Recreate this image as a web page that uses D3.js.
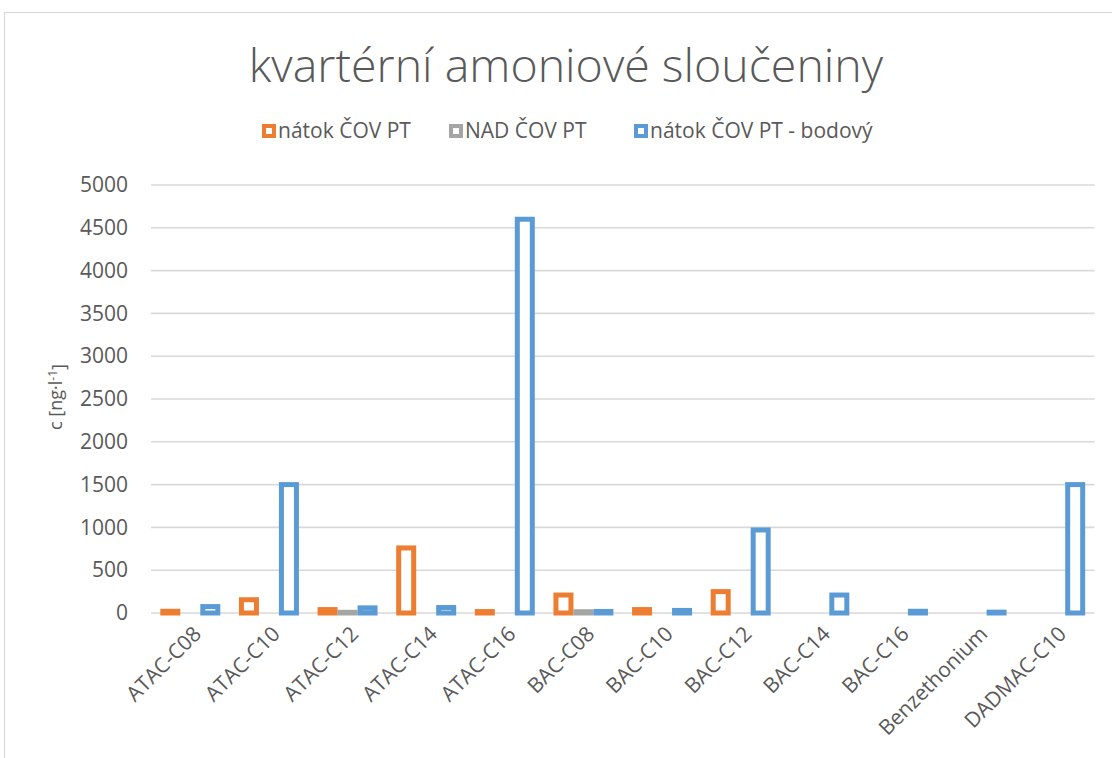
<!DOCTYPE html>
<html>
<head>
<meta charset="utf-8">
<script src="https://cdn.jsdelivr.net/npm/d3@7"></script>
<style>
  body { margin: 0; background: #fff; }
  svg text { font-family: "Open Sans", sans-serif; fill: #595959; }
</style>
</head>
<body>
<div id="chart"></div>
<script>
// data
var categories = ["ATAC-C08", "ATAC-C10", "ATAC-C12", "ATAC-C14", "ATAC-C16", "BAC-C08",
  "BAC-C10", "BAC-C12", "BAC-C14", "BAC-C16", "Benzethonium", "DADMAC-C10"];
var seriesNames = ["nátok ČOV PT", "NAD ČOV PT", "nátok ČOV PT - bodový"];
var natok = [20, 155, 40, 760, 17, 210, 40, 250, null, null, null, null];
var nad = [null, null, 8, null, null, 15, null, null, null, null, null, null];
var bodovy = [75, 1500, 60, 64, 4600, 18, 30, 970, 210, 20, 10, 1500];
var yTicks = [0, 500, 1000, 1500, 2000, 2500, 3000, 3500, 4000, 4500, 5000];
var colors = ["#ED7D31", "#A5A5A5", "#5B9BD5"];

var W = 1112, H = 758;
var plot = {left: 151, right: 1094.5, top: 185, bottom: 613};
var sw = 5; // outline width of the hollow bars

var svg = d3.select("#chart").append("svg")
  .attr("width", W)
  .attr("height", H);

// chart frame (runs off the right and bottom of the picture)
svg.append("rect")
  .attr("x", 4.5).attr("y", 12.5)
  .attr("width", 1200).attr("height", 900)
  .attr("fill", "#fff")
  .attr("stroke", "#D9D9D9")
  .attr("stroke-width", 1.2);

var x0 = d3.scaleBand()
  .domain(categories)
  .range([plot.left, plot.right])
  .paddingInner(0.237)
  .paddingOuter(0.1185);

var x1 = d3.scaleBand()
  .domain(d3.range(3))
  .range([0, x0.bandwidth()]);

var y = d3.scaleLinear()
  .domain([0, 5000])
  .range([plot.bottom, plot.top]);

// gridlines
svg.append("g")
  .selectAll("line")
  .data(yTicks)
  .enter().append("line")
    .attr("x1", plot.left)
    .attr("x2", plot.right)
    .attr("y1", d => y(d))
    .attr("y2", d => y(d))
    .attr("stroke", "#D9D9D9")
    .attr("stroke-width", 1.6);

// y axis labels
var yAxis = svg.append("g")
  .attr("transform", "translate(" + (plot.left - 10) + ",0)")
  .call(d3.axisLeft(y).tickValues(yTicks).tickFormat(d3.format("d")).tickSize(0).tickPadding(13));
yAxis.select(".domain").remove();
yAxis.selectAll("text")
  .attr("font-size", "21px")
  .attr("font-family", "Open Sans")
  .attr("fill", "#595959");

// y axis title
var yt = svg.append("text")
  .attr("transform", "translate(62,397) rotate(-90)")
  .attr("text-anchor", "middle")
  .attr("font-size", "18px");
yt.append("tspan").text("c [ng·l");
yt.append("tspan").attr("dy", "-0.45em").attr("font-size", "12px").text("-1");
yt.append("tspan").attr("dy", "0.45em").text("]");

// bars
var series = [natok, nad, bodovy];
series.forEach(function(vals, si) {
  var rows = categories.map((c, i) => ({cat: c, v: vals[i]})).filter(d => d.v != null);
  svg.append("g")
    .selectAll("rect")
    .data(rows)
    .enter().append("rect")
      .attr("x", d => x0(d.cat) + x1(si) + sw / 2)
      .attr("width", x1.bandwidth() - sw)
      .attr("y", d => y(d.v))
      .attr("height", d => y(0) - y(d.v))
      .attr("fill", "#fff")
      .attr("stroke", colors[si])
      .attr("stroke-width", sw);
});

// x axis labels
var xAxis = svg.append("g")
  .attr("transform", "translate(0," + plot.bottom + ")")
  .call(d3.axisBottom(x0).tickSize(0).tickPadding(0));
xAxis.select(".domain").remove();
xAxis.selectAll("text")
  .attr("font-size", "21px")
  .attr("font-family", "Open Sans")
  .attr("fill", "#595959")
  .attr("text-anchor", "end")
  .attr("dy", "0.35em")
  .attr("transform", "translate(7,17) rotate(-45)");

// title
svg.append("text")
  .attr("x", 566)
  .attr("y", 82)
  .attr("text-anchor", "middle")
  .attr("font-size", "46.5px")
  .attr("font-weight", 300)
  .text("kvartérní amoniové sloučeniny");

// legend
var legendX = [262, 449, 634];
var lg = svg.append("g")
  .selectAll("g")
  .data(seriesNames)
  .enter().append("g")
    .attr("transform", (d, i) => "translate(" + legendX[i] + ",131)");
lg.append("rect")
  .attr("x", 2).attr("y", -5)
  .attr("width", 10).attr("height", 10)
  .attr("fill", "#fff")
  .attr("stroke", (d, i) => colors[i])
  .attr("stroke-width", 4);
lg.append("text")
  .attr("x", 16)
  .attr("dy", "0.35em")
  .attr("font-size", "21px")
  .text(d => d);
</script>
</body>
</html>
